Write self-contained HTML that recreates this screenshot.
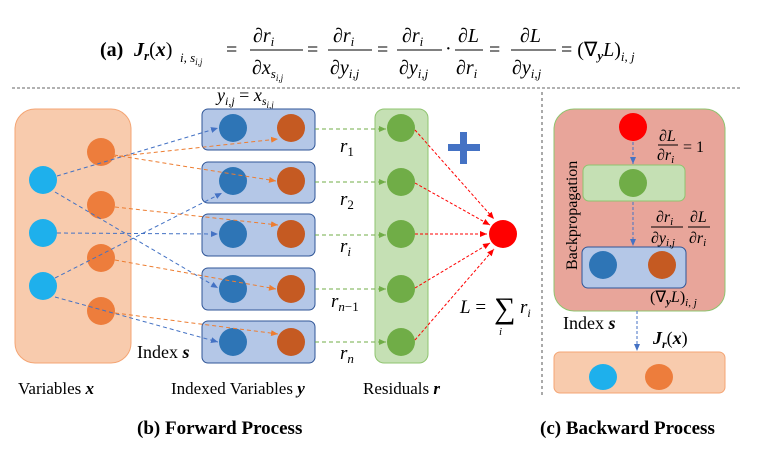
<!DOCTYPE html>
<html><head><meta charset="utf-8"><style>
html,body{margin:0;padding:0;background:#fff;}
svg{display:block;}
text{font-family:"Liberation Serif",serif;}
.it{font-style:italic;}
</style></head><body>
<svg width="766" height="454" viewBox="0 0 766 454" xmlns="http://www.w3.org/2000/svg">
<defs>
<marker id="ab" markerWidth="8" markerHeight="8" refX="7" refY="4" orient="auto" markerUnits="userSpaceOnUse"><path d="M0,1 L7,4 L0,7z" fill="#4472c4"/></marker>
<marker id="ao" markerWidth="8" markerHeight="8" refX="7" refY="4" orient="auto" markerUnits="userSpaceOnUse"><path d="M0,1 L7,4 L0,7z" fill="#ed7d31"/></marker>
<marker id="ag" markerWidth="8" markerHeight="8" refX="7" refY="4" orient="auto" markerUnits="userSpaceOnUse"><path d="M0,1 L7,4 L0,7z" fill="#70ad47"/></marker>
<marker id="ar" markerWidth="8" markerHeight="8" refX="7" refY="4" orient="auto" markerUnits="userSpaceOnUse"><path d="M0,1 L7,4 L0,7z" fill="#ff0000"/></marker>
</defs>

<!-- Equation -->
<g font-size="20">
<text x="100" y="56" font-weight="bold">(a)</text>
<text x="134" y="56" class="it" font-weight="bold">J<tspan font-size="13" dy="4">r</tspan><tspan dy="-4" font-style="normal" font-weight="normal">(</tspan>x<tspan font-style="normal" font-weight="normal">)</tspan></text>
<text x="180" y="62" class="it" font-size="13">i, s<tspan font-size="9" dy="3">i,j</tspan></text>
<text x="226" y="56">=</text>
<text x="253" y="42" class="it">∂r<tspan font-size="13" dy="4">i</tspan></text>
<line x1="250" y1="50" x2="303" y2="50" stroke="#000" stroke-width="1"/>
<text x="252" y="74" class="it">∂x<tspan font-size="13" dy="4">s</tspan><tspan font-size="9" dy="3">i,j</tspan></text>
<text x="307" y="56">=</text>
<text x="333" y="42" class="it">∂r<tspan font-size="13" dy="4">i</tspan></text>
<line x1="328" y1="50" x2="372" y2="50" stroke="#000" stroke-width="1"/>
<text x="330" y="74" class="it">∂y<tspan font-size="13" dy="4">i,j</tspan></text>
<text x="377" y="56">=</text>
<text x="402" y="42" class="it">∂r<tspan font-size="13" dy="4">i</tspan></text>
<line x1="397" y1="50" x2="442" y2="50" stroke="#000" stroke-width="1"/>
<text x="399" y="74" class="it">∂y<tspan font-size="13" dy="4">i,j</tspan></text>
<text x="445" y="55">·</text>
<text x="458" y="42" class="it">∂L</text>
<line x1="455" y1="50" x2="483" y2="50" stroke="#000" stroke-width="1"/>
<text x="456" y="74" class="it">∂r<tspan font-size="13" dy="4">i</tspan></text>
<text x="489" y="56">=</text>
<text x="520" y="42" class="it">∂L</text>
<line x1="511" y1="50" x2="556" y2="50" stroke="#000" stroke-width="1"/>
<text x="512" y="74" class="it">∂y<tspan font-size="13" dy="4">i,j</tspan></text>
<text x="561" y="56">= (∇<tspan font-size="13" dy="4" font-weight="bold" class="it">y</tspan><tspan dy="-4" class="it">L</tspan>)<tspan font-size="13" dy="5" class="it">i, j</tspan></text>
</g>

<!-- dividers -->
<line x1="12" y1="88" x2="742" y2="88" stroke="#999" stroke-width="1.5" stroke-dasharray="3,2"/>
<line x1="542" y1="92" x2="542" y2="398" stroke="#555" stroke-width="1" stroke-dasharray="3,3"/>

<!-- y label -->
<text x="217" y="101" class="it" font-size="18">y<tspan font-size="12" dy="4">i,j</tspan><tspan dy="-4" font-style="normal"> = </tspan>x<tspan font-size="12" dy="4">s</tspan><tspan font-size="9" dy="3">i,j</tspan></text>

<!-- left variable box -->
<rect x="15" y="109" width="116" height="254" rx="20" fill="#f8cbad" stroke="#f4a574" stroke-width="1"/>
<g fill="#1eb0ec">
<circle cx="43" cy="180" r="14"/><circle cx="43" cy="233" r="14"/><circle cx="43" cy="286" r="14"/>
</g>
<g fill="#ed7d3c">
<circle cx="101" cy="152" r="14"/><circle cx="101" cy="205" r="14"/><circle cx="101" cy="258" r="14"/><circle cx="101" cy="311" r="14"/>
</g>

<!-- blue boxes -->
<g fill="#b4c7e7" stroke="#2f5597" stroke-width="1">
<rect x="202" y="109" width="113" height="41" rx="6"/>
<rect x="202" y="162" width="113" height="41" rx="6"/>
<rect x="202" y="214" width="113" height="42" rx="6"/>
<rect x="202" y="268" width="113" height="42" rx="6"/>
<rect x="202" y="321" width="113" height="42" rx="6"/>
</g>
<g fill="#2e75b6">
<circle cx="233" cy="128" r="14"/><circle cx="233" cy="181" r="14"/><circle cx="233" cy="234" r="14"/><circle cx="233" cy="289" r="14"/><circle cx="233" cy="342" r="14"/>
</g>
<g fill="#c55a22">
<circle cx="291" cy="128" r="14"/><circle cx="291" cy="181" r="14"/><circle cx="291" cy="234" r="14"/><circle cx="291" cy="289" r="14"/><circle cx="291" cy="342" r="14"/>
</g>

<!-- blue connectors -->
<g stroke="#4472c4" stroke-width="1" stroke-dasharray="4,3" fill="none" marker-end="url(#ab)">
<line x1="57" y1="176" x2="218" y2="128"/>
<line x1="55" y1="192" x2="218" y2="288"/>
<line x1="57" y1="233" x2="218" y2="234"/>
<line x1="55" y1="278" x2="222" y2="193"/>
<line x1="55" y1="297" x2="218" y2="342"/>
</g>
<!-- orange connectors -->
<g stroke="#ed7d31" stroke-width="1" stroke-dasharray="4,3" fill="none" marker-end="url(#ao)">
<line x1="112" y1="157" x2="278" y2="139"/>
<line x1="114" y1="155" x2="276" y2="181"/>
<line x1="115" y1="207" x2="278" y2="225"/>
<line x1="115" y1="260" x2="276" y2="289"/>
<line x1="115" y1="313" x2="278" y2="334"/>
</g>

<!-- green box -->
<rect x="375" y="109" width="53" height="254" rx="9" fill="#c5e0b4" stroke="#8fc46f" stroke-width="1"/>
<g fill="#70ad47">
<circle cx="401" cy="128" r="14"/><circle cx="401" cy="182" r="14"/><circle cx="401" cy="234" r="14"/><circle cx="401" cy="289" r="14"/><circle cx="401" cy="342" r="14"/>
</g>
<g stroke="#70ad47" stroke-width="1" stroke-dasharray="4,3" marker-end="url(#ag)">
<line x1="315" y1="129" x2="386" y2="129"/>
<line x1="315" y1="182" x2="386" y2="182"/>
<line x1="315" y1="235" x2="386" y2="235"/>
<line x1="315" y1="289" x2="386" y2="289"/>
<line x1="315" y1="342" x2="386" y2="342"/>
</g>
<g font-size="19" class="it">
<text x="340" y="152">r<tspan font-size="13" dy="4" font-style="normal">1</tspan></text>
<text x="340" y="205">r<tspan font-size="13" dy="4" font-style="normal">2</tspan></text>
<text x="340" y="252">r<tspan font-size="13" dy="4">i</tspan></text>
<text x="331" y="307">r<tspan font-size="13" dy="4">n</tspan><tspan font-size="13" font-style="normal">−1</tspan></text>
<text x="340" y="359">r<tspan font-size="13" dy="4">n</tspan></text>
</g>

<!-- red -->
<circle cx="503" cy="234" r="14" fill="#ff0000"/>
<g stroke="#ff0000" stroke-width="1" stroke-dasharray="3,2" marker-end="url(#ar)">
<line x1="415" y1="130" x2="494" y2="219"/>
<line x1="415" y1="183" x2="490" y2="225"/>
<line x1="415" y1="234" x2="487" y2="234"/>
<line x1="415" y1="288" x2="490" y2="243"/>
<line x1="415" y1="340" x2="494" y2="249"/>
</g>
<rect x="448" y="144" width="32" height="7" fill="#4472c4"/>
<rect x="460" y="132" width="7" height="32" fill="#4472c4"/>
<text x="460" y="313" font-size="19" class="it">L<tspan font-style="normal"> = </tspan></text>
<text x="494" y="318" font-size="30">∑</text>
<text x="499" y="335" font-size="11" class="it">i</text>
<text x="520" y="313" font-size="19" class="it">r<tspan font-size="12" dy="4">i</tspan></text>

<text x="137" y="358" font-size="18">Index <tspan class="it" font-weight="bold">s</tspan></text>

<!-- bottom labels -->
<text x="18" y="394" font-size="17">Variables <tspan class="it" font-weight="bold">x</tspan></text>
<text x="171" y="394" font-size="17">Indexed Variables <tspan class="it" font-weight="bold">y</tspan></text>
<text x="363" y="394" font-size="17">Residuals <tspan class="it" font-weight="bold">r</tspan></text>
<text x="137" y="434" font-size="19" font-weight="bold">(b) Forward Process</text>
<text x="540" y="434" font-size="19" font-weight="bold">(c) Backward Process</text>

<!-- right panel -->
<rect x="554" y="109" width="171" height="202" rx="20" fill="#e8a59a" stroke="#8fc46f" stroke-width="1"/>
<circle cx="633" cy="127" r="14" fill="#ff0000"/>
<rect x="583" y="165" width="102" height="36" rx="6" fill="#c5e0b4" stroke="#8fc46f" stroke-width="1"/>
<circle cx="633" cy="183" r="14" fill="#70ad47"/>
<rect x="582" y="247" width="104" height="41" rx="6" fill="#b4c7e7" stroke="#2f5597" stroke-width="1"/>
<circle cx="603" cy="265" r="14" fill="#2e75b6"/>
<circle cx="662" cy="265" r="14" fill="#c55a22"/>
<g stroke="#4472c4" stroke-width="1" stroke-dasharray="3,2" marker-end="url(#ab)">
<line x1="633" y1="142" x2="633" y2="164"/>
<line x1="633" y1="202" x2="633" y2="246"/>
<line x1="637" y1="311" x2="637" y2="351"/>
</g>
<text transform="translate(577,270) rotate(-90)" font-size="16">Backpropagation</text>
<g font-size="16" class="it">
<text x="659" y="141">∂L</text>
<line x1="658" y1="145" x2="678" y2="145" stroke="#000"/>
<text x="657" y="160">∂r<tspan font-size="11" dy="3">i</tspan></text>
<text x="683" y="152" font-style="normal">= 1</text>
<text x="656" y="222">∂r<tspan font-size="11" dy="3">i</tspan></text>
<line x1="651" y1="227" x2="683" y2="227" stroke="#000"/>
<text x="651" y="243">∂y<tspan font-size="11" dy="3">i,j</tspan></text>
<text x="690" y="222">∂L</text>
<line x1="688" y1="227" x2="710" y2="227" stroke="#000"/>
<text x="689" y="243">∂r<tspan font-size="11" dy="3">i</tspan></text>
<text x="650" y="302" font-style="normal">(∇<tspan font-size="11" dy="3" font-weight="bold" font-style="italic">y</tspan><tspan dy="-3" font-style="italic">L</tspan>)<tspan font-size="11" dy="4" font-style="italic">i, j</tspan></text>
</g>
<text x="563" y="329" font-size="18">Index <tspan class="it" font-weight="bold">s</tspan></text>
<text x="653" y="344" font-size="18" class="it" font-weight="bold">J<tspan font-size="12" dy="4">r</tspan><tspan dy="-4" font-style="normal" font-weight="normal">(</tspan>x<tspan font-style="normal" font-weight="normal">)</tspan></text>
<rect x="554" y="352" width="171" height="41" rx="6" fill="#f8cbad" stroke="#f4a574" stroke-width="1"/>
<ellipse cx="603" cy="377" rx="14" ry="13" fill="#1eb0ec"/>
<ellipse cx="659" cy="377" rx="14" ry="13" fill="#ed7d3c"/>
</svg>
</body></html>
